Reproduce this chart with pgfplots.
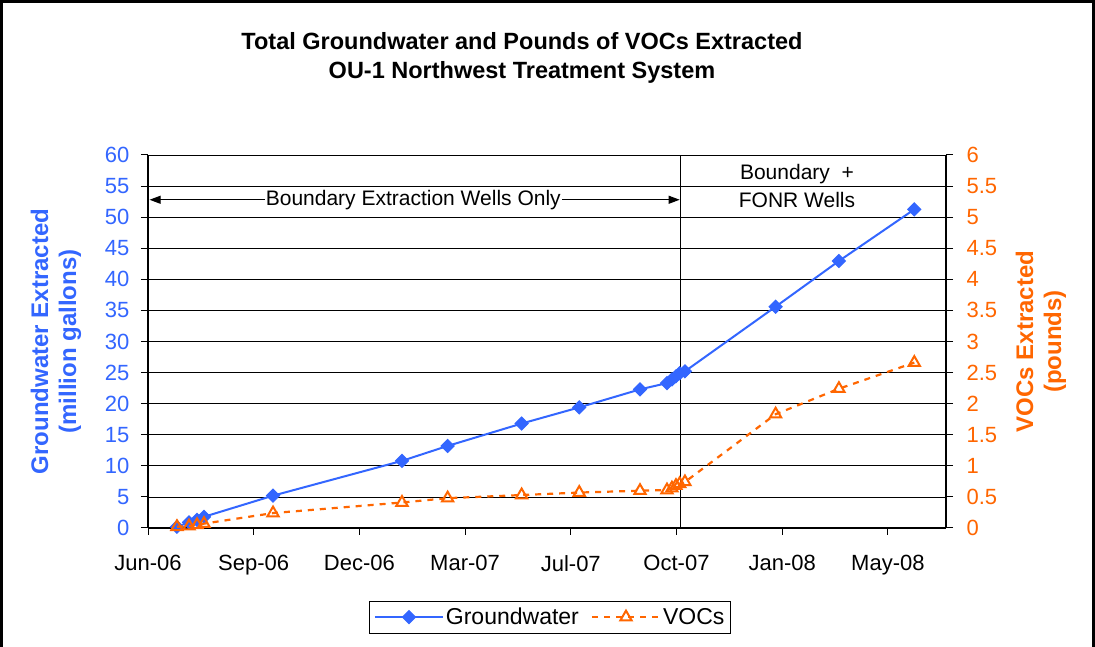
\documentclass[border=0pt]{standalone}
\usepackage{pgfplots}
\pgfplotsset{compat=1.18}
\usepackage{fontspec}
\setmainfont{Liberation Sans}
\usetikzlibrary{arrows.meta}
\definecolor{gwblue}{HTML}{3366FF}
\definecolor{vocorange}{HTML}{FF6600}

\pgfplotstableread{
d v
27.4 0.2
38.8 0.9
46.4 1.3
53 1.8
118.3 5.2
240.3 10.8
283.5 13.2
353.5 16.8
408 19.4
465.5 22.3
491 23.3
495.7 23.9
499.5 24.4
503 24.9
508 25.2
593.8 35.6
653.7 42.95
725 51.25
}\gwdata

\pgfplotstableread{
d v
27.4 0.02
38.8 0.03
46.4 0.05
53 0.07
118.3 0.24
240.3 0.41
283.5 0.48
353.5 0.53
408 0.57
465.5 0.60
491 0.61
495.7 0.64
499.5 0.68
503 0.71
508 0.74
593.8 1.83
653.7 2.24
725 2.66
}\vocdata

\pgfplotsset{
  gwstyle/.style={color=gwblue, line width=2pt, mark=square*, mark size=4.6pt, mark options={rotate=45, solid, fill=gwblue, line width=1pt}},
  vocstyle/.style={color=vocorange, line width=2.2pt, dash pattern=on 6pt off 6pt, mark=triangle, mark size=6.5pt, mark options={solid, line width=2pt}},
}

\begin{document}
\begin{tikzpicture}[x=1pt,y=1pt]
\path[use as bounding box, fill=white] (0pt,0pt) rectangle (1095pt,647pt);
\draw[line width=3pt] (1.5pt,-5pt) -- (1.5pt,645.5pt) -- (1093.5pt,645.5pt) -- (1093.5pt,-5pt);

\node[font=\fontsize{23.5}{29}\selectfont\bfseries, align=center] at (522pt,589.5pt) {Total Groundwater and Pounds of VOCs Extracted\\OU-1 Northwest Treatment System};

\begin{axis}[
  at={(148pt,119pt)}, anchor=south west, scale only axis, width=798pt, height=373pt,
  xmin=0, xmax=755, ymin=0, ymax=60,
  xtick={0,100,...,700},
  xticklabels={Jun-06,Sep-06,Dec-06,Mar-07,Jul-07,Oct-07,Jan-08,May-08},
  ytick={0,5,10,15,20,25,30,35,40,45,50,55,60},
  ymajorgrids, major grid style={black, line width=0.8pt},
  axis x line*=bottom, axis y line*=left,
  axis line style={black, line width=1.2pt},
  tick align=outside, major tick length=7pt,
  tick style={black, line width=1pt},
  /pgf/number format/assume math mode=true,
  ticklabel style={font=\fontsize{22}{26}\selectfont},
  yticklabel style={color=gwblue, xshift=-8pt},
  xticklabel style={yshift=-17pt},
  ylabel={Groundwater Extracted\\(million gallons)},
  every axis y label/.style={at={(axis description cs:-0.1153,0.5)}, rotate=90, anchor=center, align=center, color=gwblue, font=\fontsize{24}{28}\selectfont\bfseries},
  clip=false,
]
\addplot[gwstyle] table[x=d, y=v] {\gwdata};
\draw[black, line width=1.2pt] (axis cs:504,0) -- (axis cs:504,60);
\draw[black, line width=1pt, {Triangle[length=11pt,width=8pt]}-{Triangle[length=11pt,width=8pt]}] (axis cs:1.5,52.8) -- (axis cs:503,52.8);
\node[fill=white, inner sep=1pt, font=\fontsize{21}{24}\selectfont] at (axis cs:251,52.8) {Boundary Extraction Wells Only};
\node[font=\fontsize{21}{24}\selectfont] at (axis cs:614,56.9) {Boundary\ \ +};
\node[font=\fontsize{21}{24}\selectfont] at (axis cs:614,52.8) {FONR Wells};
\end{axis}

\begin{axis}[
  at={(148pt,119pt)}, anchor=south west, scale only axis, width=798pt, height=373pt,
  xmin=0, xmax=755, ymin=0, ymax=6,
  axis x line=none, axis y line*=right,
  axis line style={black, line width=1.2pt},
  ytick={0,0.5,1,1.5,2,2.5,3,3.5,4,4.5,5,5.5,6},
  yticklabels={0,0.5,1,1.5,2,2.5,3,3.5,4,4.5,5,5.5,6},
  tick align=outside, major tick length=7pt,
  tick style={black, line width=1pt},
  ticklabel style={font=\fontsize{22}{26}\selectfont},
  yticklabel style={color=vocorange, xshift=10pt},
  ylabel={VOCs Extracted\\(pounds)},
  every axis y label/.style={at={(axis description cs:1.119,0.5)}, rotate=90, anchor=center, align=center, color=vocorange, font=\fontsize{24}{28}\selectfont\bfseries},
  legend columns=2,
  legend style={at={(axis description cs:0.504,-0.239)}, anchor=center, draw=black, line width=1pt, font=\fontsize{23}{26}\selectfont, inner xsep=4pt, inner ysep=5pt, /tikz/every even column/.append style={column sep=10pt}},
  legend image code/.code={\draw[mark repeat=2, mark phase=2, #1] plot coordinates {(0pt,0pt) (34pt,0pt) (68pt,0pt)};},
  clip=false,
]
\addlegendimage{gwstyle}
\addlegendentry{Groundwater}
\addplot[vocstyle] table[x=d, y=v] {\vocdata};
\addlegendentry{VOCs}
\end{axis}
\end{tikzpicture}
\end{document}
